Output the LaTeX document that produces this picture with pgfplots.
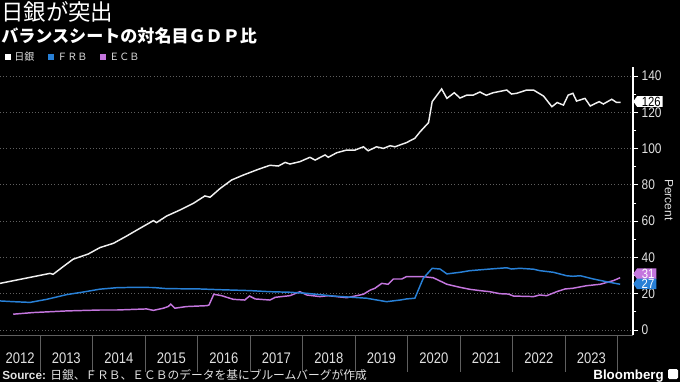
\documentclass[border=0pt]{standalone}
\usepackage{fontspec}
\usepackage{pgfplots}
\pgfplotsset{compat=1.18}
\usetikzlibrary{shapes.symbols}
\setmainfont{Liberation Sans}
\newfontfamily\cjk{Noto Sans CJK JP}
\newfontfamily\numfont[FakeStretch=0.85]{Liberation Sans}
\definecolor{boj}{RGB}{240,240,240}
\definecolor{frb}{RGB}{40,128,214}
\definecolor{ecb}{RGB}{196,118,222}
\definecolor{gridc}{RGB}{95,95,95}
\definecolor{txt}{RGB}{225,225,225}
\begin{document}
\begin{tikzpicture}[x=0.75pt,y=0.75pt]
\fill[black] (0,0) rectangle (680,382);
\path[use as bounding box] (0,0) rectangle (680,382);
% titles
\node[anchor=base west, inner sep=0, text=white, font=\cjk\fontsize{16.8pt}{18pt}\selectfont] at (1,361) {日銀が突出};
\node[anchor=base west, inner sep=0, text=white, font=\cjk\bfseries\fontsize{12.8pt}{14pt}\selectfont] at (1,339) {バランスシートの対名目ＧＤＰ比};
% legend
\fill[white] (5,322) rectangle (11,328);
\node[anchor=base west, inner sep=0, text=txt, font=\cjk\fontsize{7.5pt}{9pt}\selectfont] at (14,321) {日銀};
\fill[frb] (48,322) rectangle (54,328);
\node[anchor=base west, inner sep=0, text=txt, font=\cjk\fontsize{7.5pt}{9pt}\selectfont] at (57,321) {ＦＲＢ};
\fill[ecb] (100,322) rectangle (106,328);
\node[anchor=base west, inner sep=0, text=txt, font=\cjk\fontsize{7.5pt}{9pt}\selectfont] at (109,321) {ＥＣＢ};
\begin{axis}[
  at={(0pt,34.95pt)}, anchor=south west, scale only axis,
  width=474.75pt, height=201.3pt,
  xmin=2012.238, xmax=2024.295, ymin=-3, ymax=145,
  axis x line*=bottom, axis y line*=right,
  x axis line style={gridc, line width=0.6pt},
  y axis line style={white, line width=0.8pt},
  clip=false,
  /pgf/number format/assume math mode=true,
  ytick={0,20,...,140}, minor ytick={10,30,...,130},
  ytick style={white, line width=0.6pt},
  tick align=outside,
  major tick length=4pt, minor tick length=2.5pt,
  yticklabel style={font=\numfont\fontsize{10.5pt}{12pt}\selectfont, text=txt, xshift=-1pt},
  ymajorgrids, major grid style={gridc, dotted, line width=0.6pt},
  xtick={2012.62,2013.5,2014.5,2015.5,2016.5,2017.5,2018.5,2019.5,2020.5,2021.5,2022.5,2023.5},
  xticklabels={2012,2013,2014,2015,2016,2017,2018,2019,2020,2021,2022,2023},
  xtick style={draw=none},
  xticklabel style={font=\numfont\fontsize{11.5pt}{13pt}\selectfont, text=txt, yshift=-5.5pt},
]
\pgfplotsinvokeforeach{2013,2014,2015,2016,2017,2018,2019,2020,2021,2022,2023,2024}{
  \draw[gridc, line width=0.6pt] (axis cs:#1,-3) -- (axis cs:#1,-23.2);
}
\addplot[ecb, line width=1.1pt] coordinates {
(2012.49,8.7)(2012.87,9.6)(2013.51,10.5)(2014.14,11.0)(2014.46,11.0)(2015.03,11.6)
(2015.16,10.8)(2015.35,12.0)(2015.44,12.9)(2015.49,14.2)(2015.57,12.0)(2015.79,12.9)
(2016.18,13.4)(2016.22,13.8)(2016.31,19.7)(2016.46,18.9)(2016.68,16.9)(2016.90,16.5)
(2016.99,18.7)(2017.10,17.1)(2017.38,16.5)(2017.48,18.0)(2017.76,18.9)(2017.95,21.1)
(2018.08,19.3)(2018.33,18.4)(2018.49,18.9)(2018.84,17.8)(2019.03,18.9)(2019.16,19.7)
(2019.29,22.0)(2019.38,23.0)(2019.51,25.7)(2019.63,25.2)(2019.73,28.1)(2019.89,28.1)
(2019.98,29.4)(2020.30,29.4)(2020.49,28.8)(2020.62,27.0)(2020.75,25.2)(2021.00,23.5)
(2021.19,22.4)(2021.38,21.7)(2021.57,21.1)(2021.76,20.0)(2021.92,19.8)(2022.02,18.7)
(2022.40,18.4)(2022.52,19.3)(2022.65,18.9)(2022.84,21.1)(2023.00,22.6)(2023.15,23.0)
(2023.41,24.4)(2023.67,25.2)(2023.92,27.2)(2024.05,28.8)
};
\addplot[frb, line width=1.1pt] coordinates {
(2012.24,16.0)(2012.49,15.6)(2012.81,15.2)(2013.13,16.9)(2013.51,19.5)(2013.82,20.9)
(2014.14,22.5)(2014.46,23.3)(2014.78,23.5)(2015.16,23.4)(2015.41,22.8)(2016.05,22.6)
(2016.43,22.2)(2017.00,21.7)(2017.38,21.1)(2017.76,20.8)(2018.08,20.2)(2018.59,18.7)
(2019.22,17.5)(2019.60,15.6)(2019.86,16.5)(2019.98,17.1)(2020.14,17.5)(2020.30,28.5)
(2020.47,34.0)(2020.62,33.6)(2020.75,30.9)(2021.00,31.8)(2021.19,32.7)(2021.57,33.6)
(2021.89,34.3)(2021.98,33.6)(2022.14,34.0)(2022.40,33.5)(2022.52,32.7)(2022.78,31.8)
(2023.03,29.9)(2023.15,29.6)(2023.29,29.9)(2023.54,28.1)(2023.79,26.6)(2024.05,25.2)
};
\addplot[boj, line width=1.1pt] coordinates {
(2012.24,25.7)(2013.19,31.2)(2013.25,30.7)(2013.44,34.9)(2013.63,39.0)(2013.92,41.9)
(2014.14,45.4)(2014.40,47.8)(2014.65,51.8)(2014.90,56.0)(2015.16,60.3)(2015.22,59.2)
(2015.41,62.8)(2015.67,66.2)(2015.92,69.8)(2016.14,73.9)(2016.24,73.2)(2016.43,78.0)
(2016.65,82.7)(2016.87,85.4)(2017.16,88.6)(2017.38,90.8)(2017.54,90.4)(2017.67,92.4)
(2017.76,91.5)(2017.95,92.8)(2018.14,95.2)(2018.24,93.7)(2018.43,96.5)(2018.49,95.2)
(2018.65,97.7)(2018.84,99.2)(2019.00,99.2)(2019.16,101.0)(2019.25,98.8)(2019.41,101.0)
(2019.54,100.1)(2019.67,101.6)(2019.76,101.0)(2019.98,103.3)(2020.14,105.7)(2020.24,109.3)
(2020.40,114.3)(2020.47,125.9)(2020.65,132.9)(2020.75,127.7)(2020.89,130.8)(2021.00,127.9)
(2021.13,129.5)(2021.25,129.5)(2021.38,131.2)(2021.50,129.4)(2021.63,130.8)(2021.89,132.3)
(2021.98,130.1)(2022.08,130.5)(2022.27,132.3)(2022.40,132.3)(2022.59,129.0)(2022.75,123.1)
(2022.85,125.4)(2022.97,124.0)(2023.06,129.5)(2023.15,130.5)(2023.22,126.2)(2023.38,127.7)
(2023.48,123.5)(2023.65,125.9)(2023.73,124.6)(2023.89,127.2)(2023.98,125.5)(2024.06,125.5)
};
\node[signal, signal to=west, signal pointer angle=110, fill=white, text=black, anchor=west, inner xsep=1.5pt, inner ysep=0.5pt, font=\numfont\fontsize{10pt}{11pt}\selectfont] at (axis cs:2024.295,126) {\kern2pt 126};
\node[signal, signal to=west, signal pointer angle=110, fill=ecb, text=white, anchor=west, inner xsep=1.5pt, inner ysep=0.5pt, font=\numfont\fontsize{10pt}{11pt}\selectfont] at (axis cs:2024.295,31) {\kern2pt 31};
\node[signal, signal to=west, signal pointer angle=110, fill=frb, text=white, anchor=west, inner xsep=1.5pt, inner ysep=0.5pt, font=\numfont\fontsize{10pt}{11pt}\selectfont] at (axis cs:2024.295,25.4) {\kern2pt 27};
\end{axis}
% axis title
\node[rotate=-90, text=txt, font=\fontsize{9pt}{10pt}\selectfont, inner sep=0] at (669,182) {Percent};
% source
\node[anchor=base west, inner sep=0, text=txt, font=\fontsize{8.8pt}{10pt}\selectfont] at (2,3) {\textbf{Source:} {\cjk 日銀、ＦＲＢ、ＥＣＢのデータを基にブルームバーグが作成}};
\node[anchor=base east, inner sep=0, text=white, font=\bfseries\fontsize{10pt}{11pt}\selectfont] at (664,3) {Bloomberg};
\fill[white, rounded corners=1pt] (668,3) rectangle (678,13);
\end{tikzpicture}
\end{document}
